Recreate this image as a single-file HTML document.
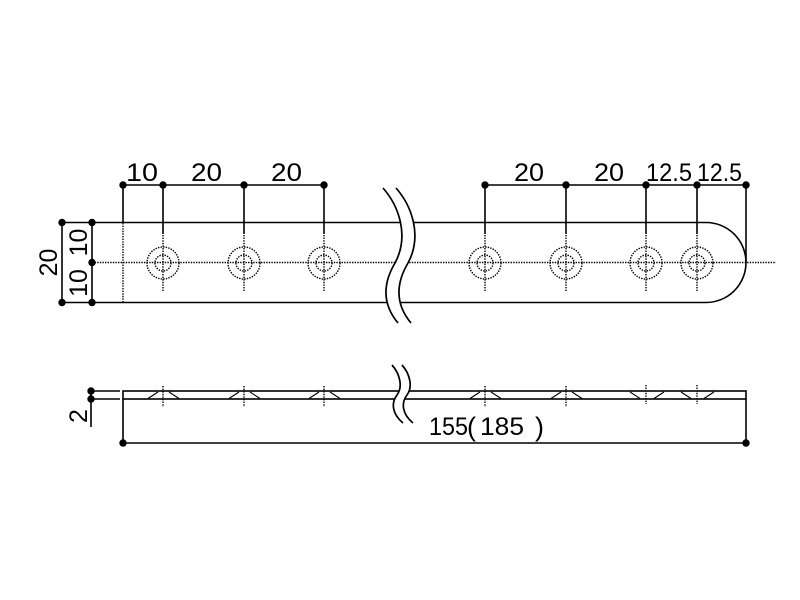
<!DOCTYPE html>
<html><head><meta charset="utf-8"><style>
html,body{margin:0;padding:0;background:#fff;}
svg{display:block;}
text{font-family:"Liberation Sans","Noto Sans CJK JP",sans-serif;font-size:25px;fill:#000;}
</style></head><body>
<svg width="800" height="600" viewBox="0 0 800 600" xmlns="http://www.w3.org/2000/svg">
<rect width="800" height="600" fill="#fff"/>
<g stroke="#000" stroke-width="1.6" fill="none">
  <line x1="123" y1="185" x2="324" y2="185"/>
  <line x1="485" y1="185" x2="746" y2="185"/>
  <line x1="123" y1="185" x2="123" y2="222.5"/>
  <line x1="163" y1="185" x2="163" y2="234"/>
  <line x1="244" y1="185" x2="244" y2="234"/>
  <line x1="324" y1="185" x2="324" y2="234"/>
  <line x1="485" y1="185" x2="485" y2="234"/>
  <line x1="566" y1="185" x2="566" y2="234"/>
  <line x1="646" y1="185" x2="646" y2="234"/>
  <line x1="697" y1="185" x2="697" y2="234"/>
  <line x1="746" y1="185" x2="746" y2="262.5"/>
  <path d="M62,222.5 H706 A40,40 0 0 1 706,302.5 H62"/>
  <line x1="62" y1="222.5" x2="62" y2="302.5"/>
  <line x1="92" y1="222.5" x2="92" y2="302.5"/>
</g>
<g stroke="#000" stroke-width="1.4" fill="none" stroke-dasharray="1.4 1.2">
  <line x1="92" y1="262.5" x2="776" y2="262.5"/>
  <line x1="123" y1="223" x2="123" y2="302"/>
  <circle cx="163" cy="263" r="16"/><circle cx="163" cy="263" r="8"/><line x1="163" y1="235" x2="163" y2="291"/>
  <circle cx="244" cy="263" r="16"/><circle cx="244" cy="263" r="8"/><line x1="244" y1="235" x2="244" y2="291"/>
  <circle cx="324" cy="263" r="16"/><circle cx="324" cy="263" r="8"/><line x1="324" y1="235" x2="324" y2="291"/>
  <circle cx="485" cy="263" r="16"/><circle cx="485" cy="263" r="8"/><line x1="485" y1="235" x2="485" y2="291"/>
  <circle cx="566" cy="263" r="16"/><circle cx="566" cy="263" r="8"/><line x1="566" y1="235" x2="566" y2="291"/>
  <circle cx="646" cy="263" r="16"/><circle cx="646" cy="263" r="8"/><line x1="646" y1="235" x2="646" y2="291"/>
  <circle cx="697" cy="263" r="16"/><circle cx="697" cy="263" r="8"/><line x1="697" y1="235" x2="697" y2="291"/>
</g>
<path d="M383,188 C398,205 410,235 395,263 C382,285 383,305 398,323 L411,323 C396,305 395,285 408,263 C423,235 411,205 396,188 Z" fill="#fff" stroke="none"/>
<g stroke="#000" stroke-width="1.7" fill="none">
  <path d="M383,188 C398,205 410,235 395,263 C382,285 383,305 398,323"/>
  <path d="M396,188 C411,205 423,235 408,263 C395,285 396,305 411,323"/>
</g>
<g fill="#000">
  <circle cx="123" cy="185" r="3.7"/><circle cx="163" cy="185" r="3.7"/><circle cx="244" cy="185" r="3.7"/><circle cx="324" cy="185" r="3.7"/>
  <circle cx="485" cy="185" r="3.7"/><circle cx="566" cy="185" r="3.7"/><circle cx="646" cy="185" r="3.7"/><circle cx="697" cy="185" r="3.7"/><circle cx="746" cy="185" r="3.7"/>
  <circle cx="62" cy="222.5" r="3.7"/><circle cx="92" cy="222.5" r="3.7"/><circle cx="92" cy="262.5" r="3.7"/>
  <circle cx="62" cy="302.5" r="3.7"/><circle cx="92" cy="302.5" r="3.7"/>
</g>
<text x="126" y="181" textLength="32" lengthAdjust="spacingAndGlyphs">10</text>
<text x="191" y="181" textLength="31" lengthAdjust="spacingAndGlyphs">20</text>
<text x="271" y="181" textLength="31" lengthAdjust="spacingAndGlyphs">20</text>
<text x="514" y="181" textLength="30" lengthAdjust="spacingAndGlyphs">20</text>
<text x="594" y="181" textLength="30" lengthAdjust="spacingAndGlyphs">20</text>
<text x="646" y="181" textLength="46" lengthAdjust="spacingAndGlyphs">12.5</text>
<text x="697" y="181" textLength="45" lengthAdjust="spacingAndGlyphs">12.5</text>
<text transform="translate(57,262.5) rotate(-90)" text-anchor="middle">20</text>
<text transform="translate(87,242.5) rotate(-90)" text-anchor="middle">10</text>
<text transform="translate(87,283) rotate(-90)" text-anchor="middle">10</text>

<g stroke="#000" stroke-width="1.6" fill="none">
  <rect x="123" y="391" width="623" height="8"/>
  <line x1="91" y1="391" x2="120" y2="391"/>
  <line x1="91" y1="399" x2="120" y2="399"/>
  <line x1="91" y1="391" x2="91" y2="427"/>
  <line x1="123" y1="399" x2="123" y2="443"/>
  <line x1="746" y1="399" x2="746" y2="443"/>
  <line x1="123" y1="443" x2="746" y2="443"/>
</g>
<g stroke="#000" stroke-width="1.1" fill="none">
  <path d="M148,398.5 L158,392 M169,392 L179,398.5"/>
  <path d="M229,398.5 L239,392 M250,392 L260,398.5"/>
  <path d="M309,398.5 L319,392 M330,392 L340,398.5"/>
  <path d="M470,398.5 L480,392 M491,392 L501,398.5"/>
  <path d="M551,398.5 L561,392 M572,392 L582,398.5"/>
  <path d="M630,392 L640,398.5 M654,398.5 L664,392"/>
  <path d="M681,392 L691,398.5 M704,398.5 L714,392"/>
</g>
<g stroke="#000" stroke-width="1.4" fill="none" stroke-dasharray="1.4 1.2">
  <line x1="163" y1="386" x2="163" y2="407"/>
  <line x1="244" y1="386" x2="244" y2="407"/>
  <line x1="324" y1="386" x2="324" y2="407"/>
  <line x1="485" y1="386" x2="485" y2="407"/>
  <line x1="566" y1="386" x2="566" y2="407"/>
  <line x1="646" y1="385" x2="646" y2="404"/>
  <line x1="697" y1="385" x2="697" y2="404"/>
</g>
<path d="M392,365 C400,374 403,387 397,395 C391,403 392,414 403,423 L413,423 C402,414 401,403 407,395 C413,387 410,374 402,365 Z" fill="#fff" stroke="none"/>
<g stroke="#000" stroke-width="1.7" fill="none">
  <path d="M392,365 C400,374 403,387 397,395 C391,403 392,414 403,423"/>
  <path d="M402,365 C410,374 413,387 407,395 C401,403 402,414 413,423"/>
</g>
<g fill="#000">
  <circle cx="91" cy="391" r="3.7"/><circle cx="91" cy="399" r="3.7"/>
  <circle cx="123" cy="443" r="3.7"/><circle cx="746" cy="443" r="3.7"/>
</g>
<text transform="translate(87,416) rotate(-90)" text-anchor="middle">2</text>
<text x="429" y="435" textLength="39" lengthAdjust="spacingAndGlyphs">155</text>
<text x="467" y="436" style="font-size:27px">(</text>
<text x="480" y="435" textLength="44" lengthAdjust="spacingAndGlyphs">185</text>
<text x="535" y="436" style="font-size:27px">)</text>
</svg>
</body></html>
